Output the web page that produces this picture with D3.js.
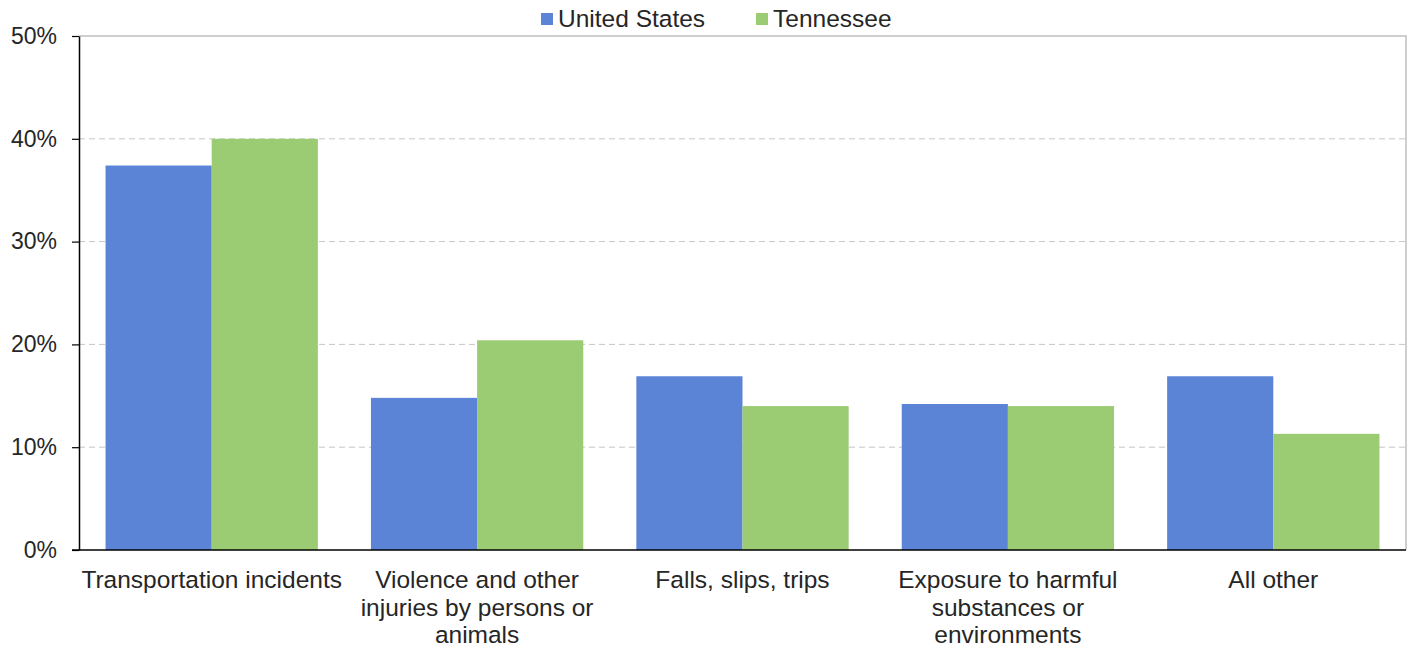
<!DOCTYPE html>
<html><head><meta charset="utf-8">
<script src="https://cdn.jsdelivr.net/npm/d3@7"></script>
<style>body{margin:0;background:#fff;} text{font-family:"Liberation Sans",Arial,sans-serif;}</style>
</head><body>
<svg id="c" width="1413" height="649"></svg>
<script>
const categories = [
  ["Transportation incidents"],
  ["Violence and other", "injuries by persons or", "animals"],
  ["Falls, slips, trips"],
  ["Exposure to harmful", "substances or", "environments"],
  ["All other"]
];
const seriesNames = ["United States", "Tennessee"];
const usValues = [37.4, 14.8, 16.9, 14.2, 16.9];
const tnValues = [40.0, 20.4, 14.0, 14.0, 11.3];
const yTicks = [0, 10, 20, 30, 40, 50];
const colors = ["#5B84D6", "#9BCB72"];

const svg = d3.select("#c");
const m = {l: 79, r: 1406, t: 36, b: 550};
const idx = categories.map((d, i) => i);
const x = d3.scaleBand().domain(idx).range([m.l, m.r]).paddingInner(0.2).paddingOuter(0.1);
const xs = d3.scaleBand().domain([0, 1]).range([0, x.bandwidth()]);
const y = d3.scaleLinear().domain([0, 50]).range([m.b, m.t]);

// grid
svg.append("g").selectAll("line").data(yTicks.filter(t => t > 0 && t < 50)).join("line")
  .attr("x1", m.l).attr("x2", m.r).attr("y1", d => y(d)).attr("y2", d => y(d))
  .attr("stroke", "#c6c6c6").attr("stroke-width", 1).attr("stroke-dasharray", "6,4");
// border top/right
svg.append("path").attr("d", `M${m.l},${y(50)}H${m.r}V${m.b}`).attr("fill", "none").attr("stroke", "#bfbfbf").attr("stroke-width", 1.5);

const series = [usValues, tnValues];
series.forEach((vals, s) => {
  svg.append("g").selectAll("rect").data(vals).join("rect")
    .attr("x", (d, i) => x(i) + xs(s)).attr("width", xs.bandwidth())
    .attr("y", d => y(d)).attr("height", d => y(0) - y(d))
    .attr("fill", colors[s]);
});

// y axis
const ya = d3.axisLeft(y).tickValues(yTicks).tickFormat(d => d + "%").tickSize(7).tickSizeOuter(0);
const gy = svg.append("g").attr("transform", `translate(${m.l},0)`).call(ya);
gy.select(".domain").attr("stroke", "#000").attr("stroke-width", 1.5);
gy.selectAll(".tick line").attr("stroke", "#000").attr("stroke-width", 1.2);
gy.selectAll(".tick text").attr("font-size", 23).attr("fill", "#262626").attr("x", -22).attr("font-family", "Liberation Sans, Arial, sans-serif");

// x axis
svg.append("line").attr("x1", m.l - 7).attr("x2", m.r).attr("y1", m.b).attr("y2", m.b).attr("stroke", "#000").attr("stroke-width", 1.5);
const gx = svg.append("g");
categories.forEach((lines, i) => {
  const t = gx.append("text").attr("text-anchor", "middle").attr("font-size", 24.5).attr("fill", "#262626")
    .attr("x", x(i) + x.bandwidth() / 2).attr("y", 588);
  lines.forEach((ln, k) => t.append("tspan").attr("x", x(i) + x.bandwidth() / 2).attr("dy", k ? 27.5 : 0).text(ln));
});

// legend
const legX = [541, 756];
seriesNames.forEach((n, s) => {
  svg.append("rect").attr("x", legX[s]).attr("y", 13).attr("width", 12).attr("height", 12).attr("fill", colors[s]);
  svg.append("text").attr("x", legX[s] + 17).attr("y", 27).attr("font-size", 24.5).attr("fill", "#262626").text(n);
});
</script>
</body></html>
